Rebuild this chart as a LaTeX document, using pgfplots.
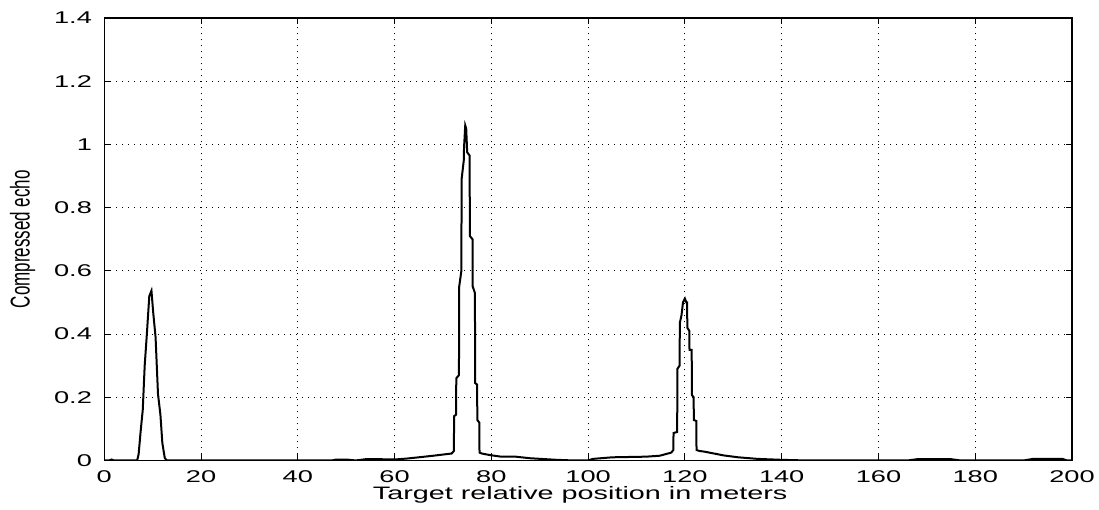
\documentclass[border=0pt]{standalone}
\usepackage{pgfplots}
\pgfplotsset{compat=1.18}
\usepackage{fontspec}
\setmainfont[FakeStretch=1.6]{Liberation Sans}
\newfontfamily\ylfont{Liberation Sans}
\begin{document}
\begin{tikzpicture}
\begin{axis}[
  scale only axis,
  width=483.9pt, height=221.25pt,
  xmin=0, xmax=200, ymin=0, ymax=1.4,
  xtick={0,20,...,200},
  ytick={0,0.2,...,1.4},
  yticklabels={0,0.2,0.4,0.6,0.8,1,1.2,1.4},
  /pgf/number format/assume math mode=true,
  grid=major,
  major grid style={black, line width=0.45pt, dash pattern=on 0.5pt off 2.5pt},
  axis line style={black, line width=0.6pt},
  tick align=inside,
  major tick length=3pt,
  tick style={black, line width=0.5pt},
  ticklabel style={font=\fontsize{8.5}{10}\selectfont},
  yticklabel style={anchor=east, inner sep=0pt, xshift=-6pt},
  xticklabel style={anchor=north, inner sep=0pt, yshift=-4.7pt},
  xlabel={Target relative position in meters},
  xlabel style={font=\fontsize{9}{10}\selectfont, at={(axis description cs:0.5,0)}, anchor=north, inner sep=0pt, yshift=-13pt, xshift=-4pt},
  ylabel={\ylfont\scalebox{1}[1.6]{Compressed echo}},
  ylabel style={font=\fontsize{8.5}{10}\selectfont, at={(axis description cs:-0.071,0.5)}, anchor=south, inner sep=0pt},
]
\coordinate (sw) at (rel axis cs:0,0);
\coordinate (ne) at (rel axis cs:1,1);
\addplot[black, line width=1pt] coordinates {
(0,0) (1.0,0) (1.5,0.003) (2.0,0) (6.5,0)
(6.8,0) (7.1,0.02) (7.5,0.09) (7.95,0.16) (8.35,0.30) (8.8,0.40) (9.3,0.52)
(9.75,0.537) (10.1,0.47) (10.6,0.39) (11.1,0.21) (11.6,0.145) (12.0,0.055)
(12.5,0.008) (12.9,0)
(47,0) (48,0.003) (50,0.003) (52,0) (54,0.004) (57,0.004) (60,0.003)
(62.5,0.006) (65,0.01) (68,0.015) (70.7,0.02) (71.8,0.022)
(72.25,0.03) (72.3,0.14) (72.7,0.145) (72.75,0.26) (73.3,0.27) (73.35,0.55)
(73.8,0.60) (73.85,0.89) (74.3,0.95) (74.35,0.99) (74.6,1.06) (74.8,1.05)
(75.0,0.975) (75.5,0.965) (75.56,0.71) (76.1,0.70) (76.15,0.55) (76.6,0.53)
(76.65,0.245) (77.05,0.24) (77.1,0.128) (77.5,0.12) (77.55,0.025) (78.0,0.022)
(79.7,0.017) (82,0.012) (85,0.012) (88,0.007) (93.5,0.002) (97,0) (100,0)
(101,0.005) (105,0.01) (112,0.012) (114.8,0.015) (116.5,0.022) (117.2,0.025)
(117.6,0.033) (117.65,0.087) (118.4,0.09) (118.45,0.29) (118.9,0.30)
(118.95,0.435) (119.3,0.46) (119.6,0.50) (120.0,0.512) (120.3,0.50)
(120.45,0.50) (120.5,0.42) (120.9,0.41) (120.95,0.35) (121.4,0.35)
(121.45,0.207) (121.8,0.20) (121.85,0.128) (122.35,0.125) (122.4,0.033)
(123,0.03) (124,0.028) (126,0.022) (128,0.016) (131,0.01) (135,0.005)
(140,0.002) (145,0) (166,0) (168,0.004) (175,0.004) (177,0) (190,0)
(192,0.005) (198,0.005) (199,0) (200,0)
};
\end{axis}
\pgfresetboundingbox
\path ([shift={(-52.15pt,-24.75pt)}]sw) rectangle ([shift={(13.5pt,9pt)}]ne);
\end{tikzpicture}
\end{document}
